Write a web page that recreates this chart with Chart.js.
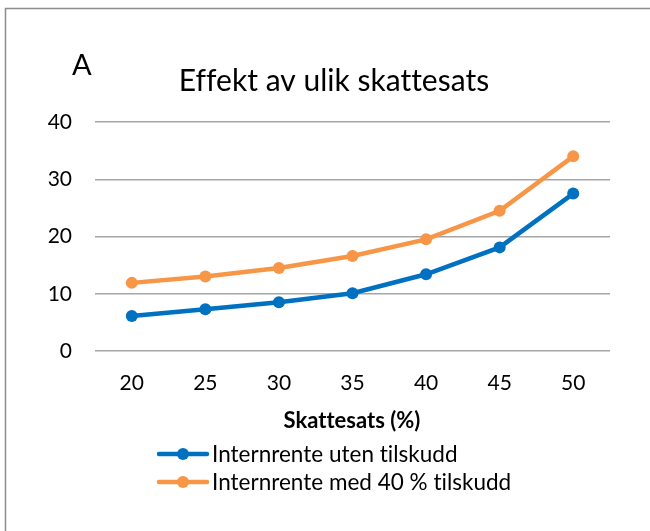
<!DOCTYPE html>
<html>
<head>
<meta charset="utf-8">
<script src="https://cdn.jsdelivr.net/npm/chart.js@4.4.1/dist/chart.umd.min.js"></script>
<style>
  html, body { margin: 0; padding: 0; background: #ffffff; }
  #wrap { position: relative; width: 650px; height: 531px; }
  canvas { display: block; }
</style>
</head>
<body>
<div id="wrap"><canvas id="c" width="650" height="531"></canvas></div>
<script>
const categories = ["20", "25", "30", "35", "40", "45", "50"];
const utenTilskudd = [6.1, 7.3, 8.5, 10.1, 13.4, 18.1, 27.5];
const medTilskudd = [11.9, 13.0, 14.5, 16.6, 19.5, 24.5, 34.0];
const seriesLabels = ["Internrente uten tilskudd", "Internrente med 40 % tilskudd"];
const chartTitle = "Effekt av ulik skattesats";
const panelLabel = "A";
const xAxisTitle = "Skattesats (%)";

const FONT = "Lato, 'Open Sans', sans-serif";
const BLUE = "#0070C0";
const ORANGE = "#F79646";

const decor = {
  id: "decor",
  beforeDraw(chart) {
    const ctx = chart.ctx;
    ctx.save();
    ctx.strokeStyle = "#8c8c8c";
    ctx.lineWidth = 1.5;
    ctx.beginPath();
    ctx.moveTo(5.5, 531);
    ctx.lineTo(5.5, 8.5);
    ctx.lineTo(650, 8.5);
    ctx.stroke();
    ctx.restore();
  },
  afterDraw(chart) {
    const ctx = chart.ctx;
    ctx.save();
    if ("letterSpacing" in ctx) ctx.letterSpacing = "0.01px";
    ctx.fillStyle = "#000000";
    ctx.textBaseline = "alphabetic";
    // panel label
    ctx.textAlign = "left";
    ctx.font = "29px " + FONT;
    ctx.fillText(panelLabel, 72, 75);
    // title
    ctx.textAlign = "center";
    ctx.font = "30px " + FONT;
    ctx.fillText(chartTitle, 334, 91);
    // x axis title
    ctx.font = "bold 22px " + FONT;
    ctx.textBaseline = "middle";
    ctx.fillText(xAxisTitle, 352, 421);
    // legend
    const ds = chart.data.datasets;
    const rows = [454, 482];
    ds.forEach((d, i) => {
      const y = rows[i];
      ctx.strokeStyle = d.borderColor;
      ctx.lineWidth = 4.5;
      ctx.lineCap = "round";
      ctx.beginPath();
      ctx.moveTo(159, y);
      ctx.lineTo(207, y);
      ctx.stroke();
      ctx.fillStyle = d.borderColor;
      ctx.beginPath();
      ctx.arc(183, y, 6, 0, Math.PI * 2);
      ctx.fill();
      ctx.fillStyle = "#000000";
      ctx.textAlign = "left";
      ctx.font = "22.5px " + FONT;
      ctx.fillText(d.label, 212, y + 1);
    });
    ctx.restore();
  }
};

new Chart(document.getElementById("c"), {
  type: "line",
  data: {
    labels: categories,
    datasets: [
      {
        label: seriesLabels[0],
        data: utenTilskudd,
        borderColor: BLUE,
        backgroundColor: BLUE,
        borderWidth: 4.5,
        pointRadius: 6,
        pointHoverRadius: 6,
        pointBackgroundColor: BLUE,
        pointBorderWidth: 0,
        tension: 0
      },
      {
        label: seriesLabels[1],
        data: medTilskudd,
        borderColor: ORANGE,
        backgroundColor: ORANGE,
        borderWidth: 4.5,
        pointRadius: 6,
        pointHoverRadius: 6,
        pointBackgroundColor: ORANGE,
        pointBorderWidth: 0,
        tension: 0
      }
    ]
  },
  options: {
    responsive: false,
    animation: false,
    devicePixelRatio: 1,
    layout: { padding: { top: 122, left: 0, right: 40, bottom: 0 } },
    plugins: {
      legend: { display: false },
      title: { display: false },
      tooltip: { enabled: false }
    },
    scales: {
      x: {
        offset: true,
        grid: { display: false, drawTicks: false },
        border: { display: false },
        ticks: { color: "#000", font: { family: FONT, size: 21 }, padding: 20 },
        afterFit(scale) { scale.height = 180; }
      },
      y: {
        min: 0,
        max: 40,
        grid: { color: "#a6a6a6", lineWidth: 1.5, drawTicks: false },
        border: { display: false },
        ticks: { stepSize: 10, color: "#000", font: { family: FONT, size: 21 }, padding: 23 },
        afterFit(scale) { scale.width = 95; }
      }
    }
  },
  plugins: [decor]
});
</script>
</body>
</html>
